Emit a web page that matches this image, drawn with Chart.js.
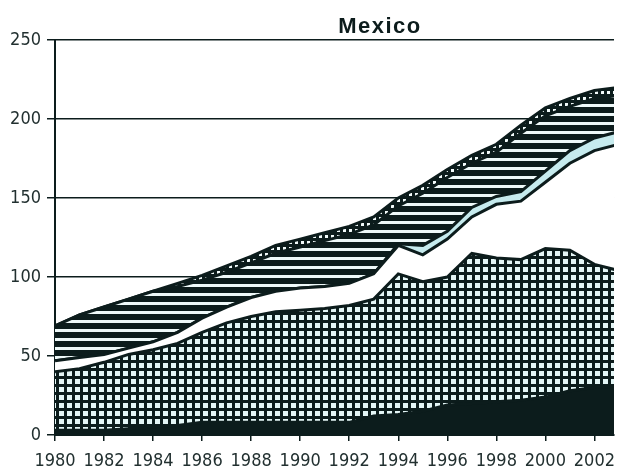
<!DOCTYPE html>
<html>
<head>
    <title>Mexico</title>
    <script src="https://cdn.jsdelivr.net/npm/chart.js"></script>
    <style>
        body { margin: 0; background: #fff; }
    </style>
</head>
<body>
    <canvas id="myChart" width="625" height="470"></canvas>

    <script>
        // values, one layer per array (stacked bottom -> top)
        var years = [1980, 1981, 1982, 1983, 1984, 1985, 1986, 1987, 1988, 1989, 1990, 1991,
                     1992, 1993, 1994, 1995, 1996, 1997, 1998, 1999, 2000, 2001, 2002, 2003];
        var blackVals  = [3, 3, 3, 4, 5, 6, 8, 8, 8, 8, 8, 8, 8, 12, 13, 15, 19, 20, 21, 22, 24, 28, 30, 31];
        var gridVals   = [37, 39, 43, 47, 49, 52, 57, 63, 67, 70, 71, 72, 74, 74, 89, 82, 81, 95, 91, 89, 94, 89, 78, 73];
        var whiteVals  = [7, 7, 5, 4, 5, 7, 9, 10, 12, 13, 14, 14, 14, 16, 18, 17, 24, 23, 34, 37, 42, 55, 72, 80];
        var blueVals   = [0, 0, 0, 0, 0, 0, 0, 0, 0, 0, 0, 0, 0, 0, 1, 6, 5, 6, 5, 6, 7, 8, 8, 8];
        var stripeVals = [22, 27, 30, 31, 32, 29, 24, 22, 22, 24, 26, 29, 31, 31, 24, 33, 34, 28, 28, 37, 35, 28, 25, 23];
        var dotVals    = [0, 0, 0, 0, 0, 2, 3, 4, 4, 5, 5, 5, 5, 5, 5, 5, 5, 5, 5, 5, 5, 5, 5, 5];
        var yTicks = [0, 50, 100, 150, 200, 250];

        var ink = "#0c1c1c";
        var tickFont = { family: '"Liberation Sans Narrow", "DejaVu Sans Condensed", sans-serif', size: 18 };

        function makePattern(w, h, draw) {
            var c = document.createElement("canvas");
            c.width = w;
            c.height = h;
            draw(c.getContext("2d"));
            return c.getContext("2d").createPattern(c, "repeat");
        }

        var gridPattern = makePattern(16, 16, function (g) {
            g.fillStyle = "#e4f6f6";
            g.fillRect(0, 0, 16, 16);
            g.fillStyle = ink;
            g.fillRect(0, 0, 3, 16);
            g.fillRect(8, 0, 3, 16);
            g.fillRect(0, 0, 16, 3);
            g.fillRect(0, 8, 16, 3);
        });
        var stripePattern = makePattern(40, 9, function (g) {
            g.fillStyle = ink;
            g.fillRect(0, 0, 40, 9);
            g.fillStyle = "#eef9f9";
            g.fillRect(0, 5, 40, 3);
        });
        var dotPattern = makePattern(6, 6, function (g) {
            g.fillStyle = ink;
            g.fillRect(0, 0, 6, 6);
            g.fillStyle = "#f2fbfb";
            g.fillRect(1, 1, 3, 3);
        });

        function series(vals) {
            return years.map((y, i) => ({ x: y, y: vals[i] }));
        }

        var layers = [
            { vals: blackVals, bg: ink, fill: "origin" },
            { vals: gridVals, bg: gridPattern, fill: "-1" },
            { vals: whiteVals, bg: "#ffffff", fill: "-1" },
            { vals: blueVals, bg: "#c6ebee", fill: "-1" },
            { vals: stripeVals, bg: stripePattern, fill: "-1" },
            { vals: dotVals, bg: dotPattern, fill: "-1" }
        ];

        var datasets = layers.map(l => ({
            data: series(l.vals),
            backgroundColor: l.bg,
            borderColor: ink,
            borderWidth: 3,
            pointRadius: 0,
            tension: 0,
            fill: l.fill
        }));

        var titlePlugin = {
            id: "titleText",
            afterDraw(chart) {
                var c = chart.ctx;
                c.save();
                c.fillStyle = ink;
                c.font = 'bold 22px "Liberation Sans", Arial, sans-serif';
                c.letterSpacing = "1.5px";
                c.textAlign = "center";
                c.textBaseline = "alphabetic";
                c.fillText("Mexico", 380, 33);
                c.restore();
            }
        };

        new Chart(document.getElementById("myChart"), {
            type: "line",
            data: { datasets: datasets },
            plugins: [titlePlugin],
            options: {
                responsive: false,
                animation: false,
                layout: { padding: { top: 40, right: 0, left: 0, bottom: 0 } },
                plugins: {
                    legend: { display: false },
                    tooltip: { enabled: false }
                },
                scales: {
                    x: {
                        type: "linear",
                        min: 1980,
                        max: 2002.8,
                        afterFit: s => { s.height = 35; },
                        ticks: {
                            stepSize: 2,
                            includeBounds: false,
                            autoSkip: false,
                            maxRotation: 0,
                            color: "#223030",
                            font: tickFont,
                            padding: 10,
                            callback: v => String(v)
                        },
                        grid: { drawOnChartArea: false, drawTicks: true, tickLength: 6, color: ink, lineWidth: 1.5 },
                        border: { display: true, color: ink, width: 2 }
                    },
                    y: {
                        stacked: true,
                        min: 0,
                        max: 250,
                        afterFit: s => { s.width = 55; },
                        afterBuildTicks: s => { s.ticks = yTicks.map(v => ({ value: v })); },
                        ticks: { color: "#223030", font: tickFont, padding: 6 },
                        grid: { color: ink, lineWidth: 1.5, tickLength: 8 },
                        border: { display: true, color: ink, width: 2 }
                    }
                }
            }
        });
    </script>
</body>
</html>
